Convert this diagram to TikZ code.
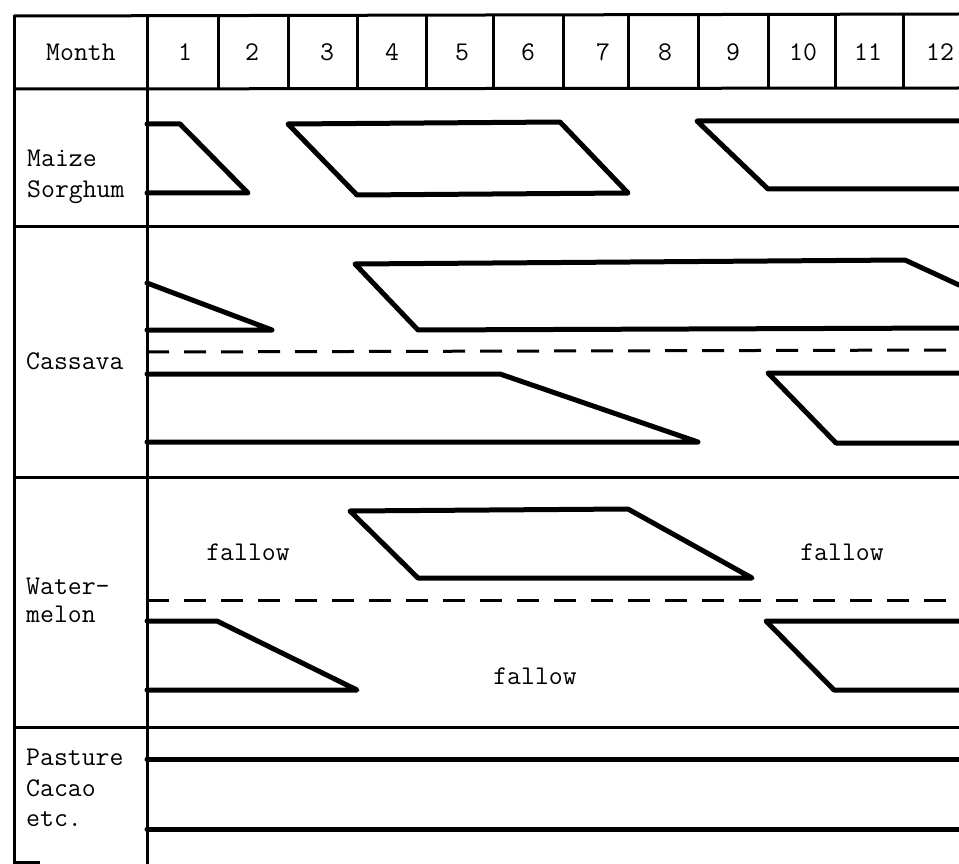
\documentclass[tikz,border=0pt]{standalone}
\usepackage{fontspec}
\begin{document}
\begin{tikzpicture}[x=1pt,y=-1pt,
  grid/.style={line width=3pt},
  crop/.style={line width=5pt,line join=round,line cap=round},
  sep/.style={line width=3pt,dash pattern=on 22pt off 15pt},
  lbl/.style={font=\fontsize{27}{30}\selectfont\ttfamily,inner sep=0pt,anchor=west},
  num/.style={font=\fontsize{27}{30}\selectfont\ttfamily,inner sep=0pt},
  word/.style={font=\fontsize{27}{30}\selectfont\ttfamily,inner sep=0pt}]
\useasboundingbox (0,0) rectangle (959,864);
\fill[white] (0,0) rectangle (959,864);

% table frame
\draw[grid] (14,15) -- (14,864);
\draw[grid] (147,15) -- (147,864);
\draw[grid] (14,16) -- (959,14);
\draw[grid] (14,89) -- (959,88);
\foreach \yy in {226,477,727} \draw[grid] (14,\yy) -- (959,\yy);
\foreach \xx in {218,288,357,426,493,563,628,698,768,835,903}
  \draw[grid] (\xx,15) -- (\xx,89);
\draw[grid] (14,862) -- (40,862);

% header
\node[num] (hmonth) at (81,52) {Month};
\foreach \m/\xx in {1/185,2/252,3/327,4/392,5/462,6/528,7/603,8/665,9/733,10/803,11/868,12/940}
  \node[num] (h\m) at (\xx,52) {\m};

% row labels
\node[lbl] (maize) at (27,158) {Maize};
\node[lbl] (sorghum) at (27,192) {Sorghum};
\node[lbl] (cassava) at (26,361) {Cassava};
\node[lbl] (water) at (26,586) {Water-};
\node[lbl] (melon) at (26,614) {melon};
\node[lbl] (pasture) at (26,757) {Pasture};
\node[lbl] (cacao) at (26,788) {Cacao};
\node[lbl] (etc) at (26,819) {etc.};

% maize / sorghum
\draw[crop] (147,124) -- (180,124) -- (248,193) -- (147,193);
\draw[crop] (288,124) -- (560,122) -- (628,193) -- (357,195) -- cycle;
\draw[crop] (959,121) -- (697,121) -- (768,189) -- (959,189);

% cassava
\draw[crop] (147,283) -- (272,330) -- (147,330);
\draw[crop] (959,285) -- (905,260) -- (355,264) -- (418,330) -- (959,328);
\draw[sep] (147,352) -- (959,350);
\draw[crop] (147,374) -- (500,374) -- (698,442) -- (147,442);
\draw[crop] (959,373) -- (768,373) -- (836,443) -- (959,443);

% watermelon
\node[word] (fallowA) at (248,552) {fallow};
\node[word] (fallowB) at (842,552) {fallow};
\node[word] (fallowC) at (535,676) {fallow};
\draw[crop] (350,511) -- (628,509) -- (752,578) -- (418,578) -- cycle;
\draw[sep] (147,600) -- (959,600);
\draw[crop] (147,621) -- (217,621) -- (357,690) -- (147,690);
\draw[crop] (959,621) -- (766,621) -- (834,690) -- (959,690);

% pasture, cacao etc.
\draw[crop] (147,759) -- (959,759);
\draw[crop] (147,829) -- (959,829);
\end{tikzpicture}
\end{document}
